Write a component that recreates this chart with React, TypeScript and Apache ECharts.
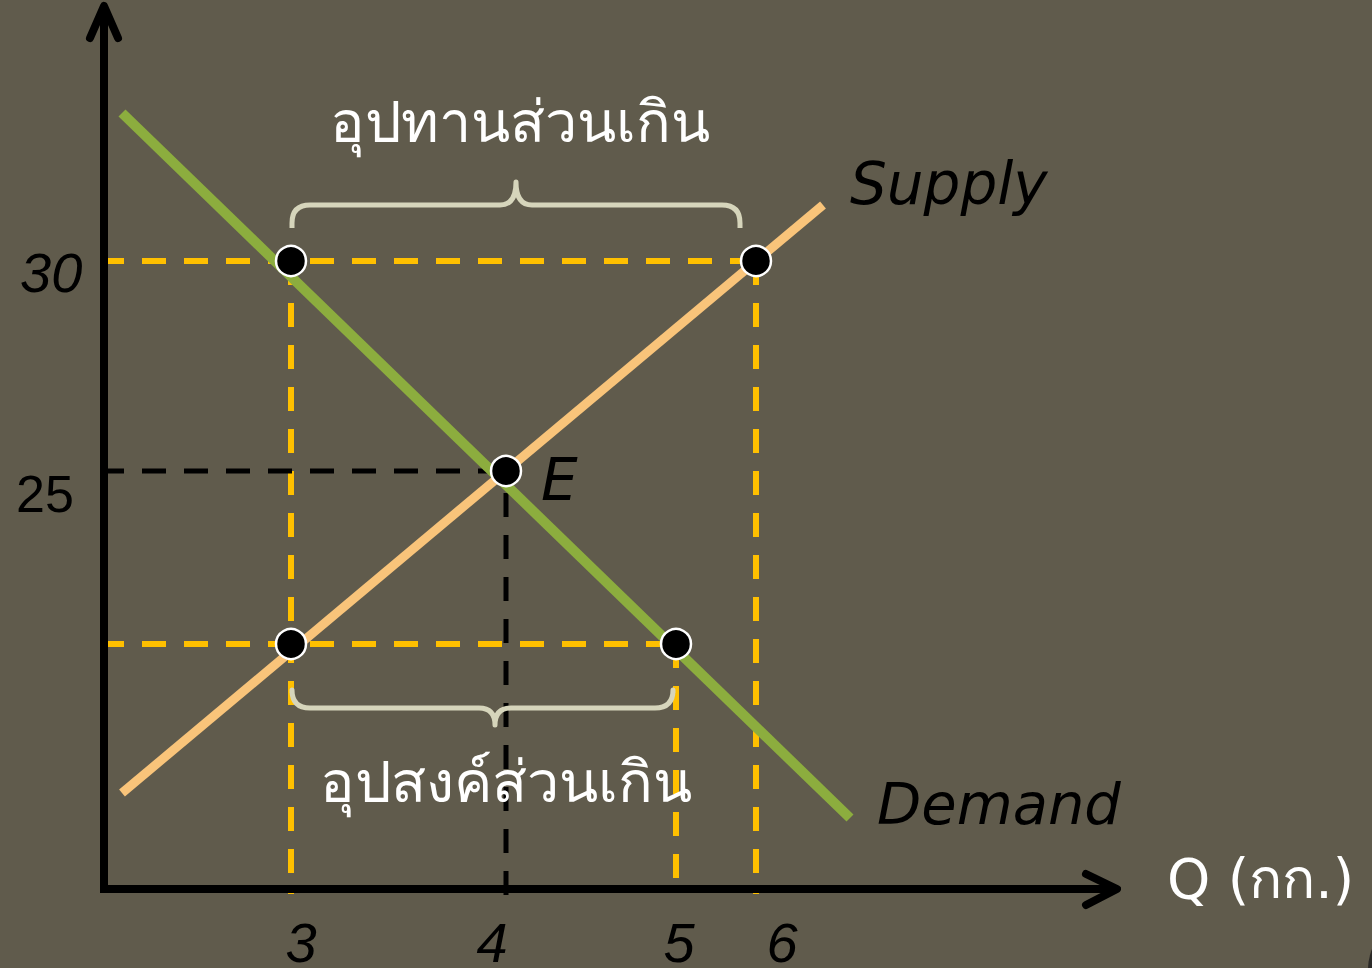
import React, { useEffect, useRef } from "react";
import * as echarts from "echarts";

// Schematic diagram: positions measured from the origin along each axis (diagram units)
const quantityLabels = ["3", "4", "5", "6"];
const quantityAt = [187, 402, 572, 652];
const priceLabels = ["30", "25"];
const priceAt = [628, 418, 245]; // P = 30, P = 25 (equilibrium E), lower price (unlabelled)

const demandLine = [
  [18, 776],
  [746, 71],
];
const supplyLine = [
  [18, 96],
  [719, 684],
];

// braces: [xStart, xEnd, xTip, yEnds, yBar, yTip]
const surplusBrace = [188, 636, 412, 661, 684, 707];
const shortageBrace = [188, 569, 391, 196, 181, 164];

const Q_MIN = -104;
const Q_MAX = 1013;
const P_MIN = -79;
const P_MAX = 883;

const BG = "#605B4C";
const YELLOW = "#FFC000";
const GREEN = "#8CAD3E";
const ORANGE = "#F9C47A";
const BRACE = "#D6D5BB";

function seg(data: number[][], color: string, width: number, z: number, dashed: boolean, cap = "butt") {
  return {
    type: "line",
    data,
    symbol: "none",
    showSymbol: false,
    silent: true,
    clip: false,
    z,
    animation: false,
    lineStyle: {
      color,
      width,
      type: dashed ? [24, 18] : "solid",
      cap,
      join: cap === "round" ? "round" : "miter",
    },
  };
}

export default function App() {
  const ref = useRef<HTMLDivElement>(null);

  useEffect(() => {
    if (!ref.current) return;
    document.body.style.margin = "0";
    const chart = echarts.init(ref.current, null, { renderer: "svg" });

    const [q3, q4, q5, q6] = quantityAt;
    const [p30, pE, pLow] = priceAt;

    const dots = [
      [q3, p30],
      [q6, p30],
      [q4, pE],
      [q3, pLow],
      [q5, pLow],
    ];

    const braceSeries = {
      type: "custom",
      coordinateSystem: "cartesian2d",
      silent: true,
      clip: false,
      z: 3,
      data: [surplusBrace, shortageBrace],
      encode: { x: [0, 1, 2], y: [3, 4, 5] },
      renderItem: (_params: any, api: any) => {
        const x1 = api.value(0);
        const x2 = api.value(1);
        const xt = api.value(2);
        const yEnd = api.value(3);
        const yBar = api.value(4);
        const yTip = api.value(5);
        const a = api.coord([x1, yEnd]);
        const b = api.coord([x2, yBar]);
        const t = api.coord([xt, yTip]);
        const yb = b[1];
        const ye = a[1];
        const xa = a[0];
        const xb = b[0];
        const dir = Math.sign(yb - ye);
        const R = 18;
        const r = 16;
        const d = [
          `M ${xa} ${ye}`,
          `L ${xa} ${yb - dir * R}`,
          `Q ${xa} ${yb} ${xa + R} ${yb}`,
          `L ${t[0] - r} ${yb}`,
          `Q ${t[0]} ${yb} ${t[0]} ${t[1]}`,
          `Q ${t[0]} ${yb} ${t[0] + r} ${yb}`,
          `L ${xb - R} ${yb}`,
          `Q ${xb} ${yb} ${xb} ${yb - dir * R}`,
          `L ${xb} ${ye}`,
        ].join(" ");
        return {
          type: "path",
          shape: { pathData: d },
          style: { stroke: BRACE, lineWidth: 5, fill: "none", lineCap: "butt", lineJoin: "round" },
        };
      },
    };

    const digitFont = '"Liberation Sans", Arial, sans-serif';
    const labelFont = '"DejaVu Sans", "Noto Sans", sans-serif';
    const thaiFont = '"Noto Sans", "DejaVu Sans", sans-serif';

    const qLabelX = [301, 492, 679, 782];
    const texts: any[] = [
      ...quantityLabels.map((t, i) => ({
        type: "text",
        x: qLabelX[i],
        y: 942,
        z: 10,
        style: {
          text: t,
          font: `italic 56px ${digitFont}`,
          lineHeight: 44,
          fill: "#000",
          textAlign: "center",
          textVerticalAlign: "middle",
        },
      })),
      {
        type: "text",
        x: 20,
        y: 272,
        z: 10,
        style: { text: priceLabels[0], font: `italic 56px ${digitFont}`, fill: "#000", textAlign: "left", textVerticalAlign: "middle" },
      },
      {
        type: "text",
        x: 16,
        y: 494,
        z: 10,
        style: { text: priceLabels[1], font: `52px ${digitFont}`, fill: "#000", textAlign: "left", textVerticalAlign: "middle" },
      },
      {
        type: "text",
        x: 850,
        y: 184,
        z: 10,
        style: { text: "Supply", font: `oblique 58px ${labelFont}`, fill: "#000", textAlign: "left", textVerticalAlign: "middle" },
      },
      {
        type: "text",
        x: 877,
        y: 804,
        z: 10,
        style: { text: "Demand", font: `oblique 57.5px ${labelFont}`, fill: "#000", textAlign: "left", textVerticalAlign: "middle" },
      },
      {
        type: "text",
        x: 541,
        y: 480,
        z: 10,
        style: { text: "E", font: `oblique 58px ${labelFont}`, fill: "#000", textAlign: "left", textVerticalAlign: "middle" },
      },
      {
        type: "text",
        x: 1167,
        y: 879,
        z: 10,
        style: { text: "Q (กก.)", font: `55px ${labelFont}`, fill: "#fff", textAlign: "left", textVerticalAlign: "middle" },
      },
      {
        type: "text",
        x: 520,
        y: 120,
        z: 10,
        style: { text: "อุปทานส่วนเกิน", font: `57.5px ${thaiFont}`, fill: "#fff", textAlign: "center", textVerticalAlign: "middle" },
      },
      {
        type: "text",
        x: 506,
        y: 780,
        z: 10,
        style: { text: "อุปสงค์ส่วนเกิน", font: `57.5px ${thaiFont}`, fill: "#fff", textAlign: "center", textVerticalAlign: "middle" },
      },
      {
        type: "circle",
        z: 10,
        shape: { cx: 1425, cy: 970, r: 57 },
        style: { fill: "#2B2A27" },
      },
    ];

    chart.setOption({
      animation: false,
      backgroundColor: BG,
      grid: { left: 0, top: 6, right: 1372 - 1117, bottom: 0, containLabel: false },
      xAxis: { type: "value", min: Q_MIN, max: Q_MAX, show: false },
      yAxis: { type: "value", min: P_MIN, max: P_MAX, show: false },
      tooltip: { show: false },
      series: [
        // guide lines
        seg([[-4, p30], [q6, p30]], YELLOW, 6, 1, true),
        seg([[q3, p30], [q3, -5]], YELLOW, 6, 1, true),
        seg([[q6, p30], [q6, -5]], YELLOW, 6, 1, true),
        seg([[-4, pLow], [q5, pLow]], YELLOW, 6, 1, true),
        seg([[q5, pLow], [q5, 0]], YELLOW, 6, 1, true),
        seg([[-4, pE], [q4, pE]], "#000", 5, 1, true),
        seg([[q4, pE - 22], [q4, -6]], "#000", 5, 1, true),
        // supply and demand
        seg(demandLine, GREEN, 10, 2, false),
        seg(supplyLine, ORANGE, 9, 2, false),
        braceSeries,
        // axes with open arrow heads
        seg([[0, P_MAX - 4], [0, 0], [Q_MAX - 4, 0]], "#000", 8, 4, false),
        seg([[-14, 851], [0, P_MAX], [14, 851]], "#000", 8, 4, false, "round"),
        seg([[982, 15], [Q_MAX, 0], [982, -16]], "#000", 8, 4, false, "round"),
        // points
        {
          type: "scatter",
          data: dots,
          symbol: "circle",
          symbolSize: 30,
          silent: true,
          z: 5,
          itemStyle: { color: "#000", borderColor: "#fff", borderWidth: 2.5, opacity: 1 },
        },
      ],
      graphic: texts,
    });

    return () => chart.dispose();
  }, []);

  return <div ref={ref} style={{ width: 1372, height: 968 }} />;
}
